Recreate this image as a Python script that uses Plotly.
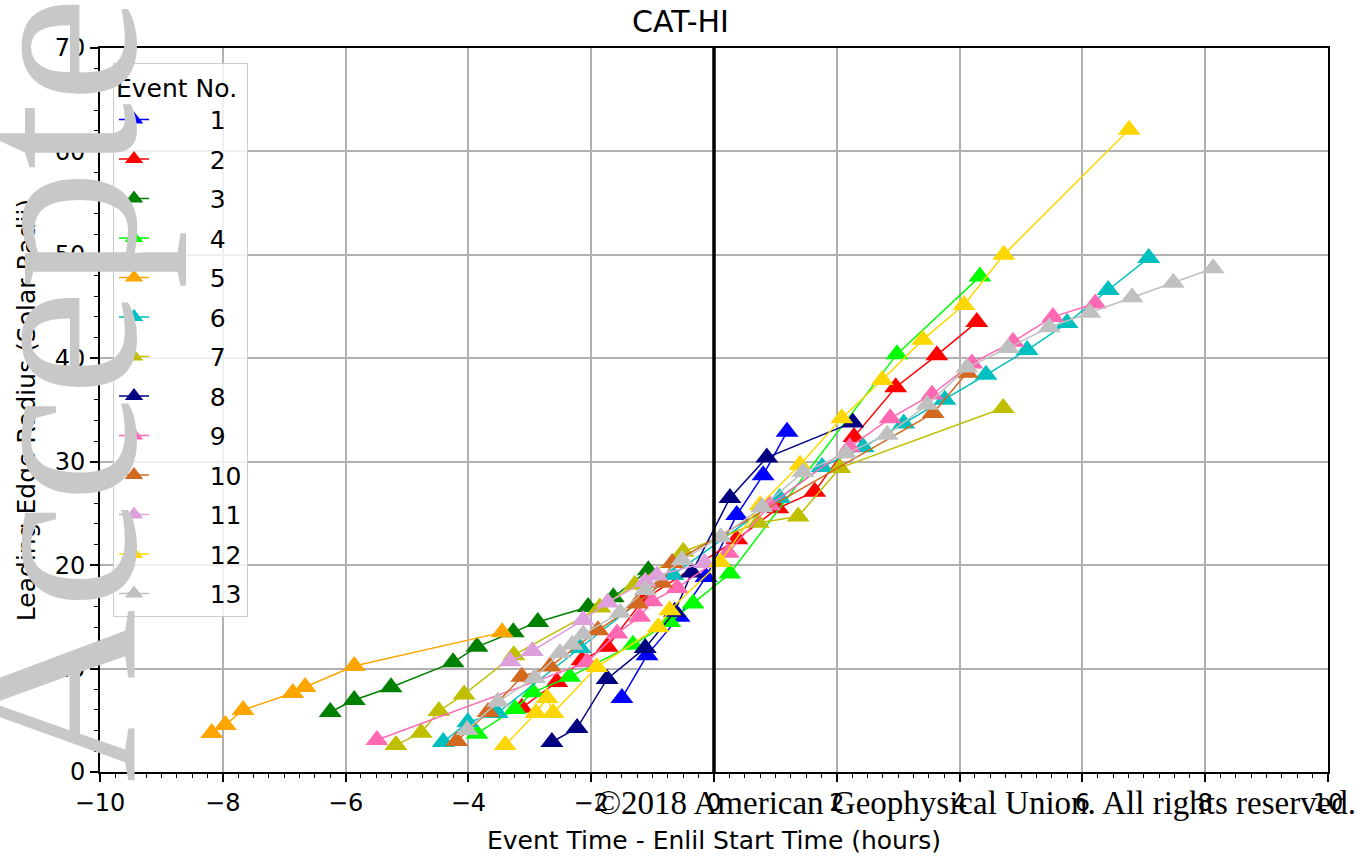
import plotly.graph_objects as go

# ---- data (hours relative to Enlil start, leading edge radius in solar radii) ----
event_labels = ["1", "2", "3", "4", "5", "6", "7", "8", "9", "10", "11", "12", "13"]
colors = ["#0000FF", "#FF0000", "#008000", "#00FF00", "#FFA500", "#00BFBF", "#BFBF00",
          "#000080", "#FF69B4", "#D2691E", "#DDA0DD", "#FFD700", "#C0C0C0"]

t1 = [-1.50, -1.09, -0.57, -0.13, 0.37, 0.80, 1.19]
r1 = [7.15, 11.3, 15.0, 18.85, 24.85, 28.7, 32.9]

t2 = [-3.13, -2.56, -2.15, -1.74, -1.16, 0.37, 1.04, 1.64, 2.28, 2.96, 3.63, 4.28]
r2 = [6.2, 8.7, 10.8, 12.1, 16.6, 22.5, 25.5, 27.1, 32.4, 37.2, 40.3, 43.5]

t3 = [-6.25, -5.86, -5.26, -4.25, -3.86, -3.27, -2.87, -2.05, -1.64, -1.07]
r3 = [5.8, 6.96, 8.2, 10.6, 12.1, 13.5, 14.5, 15.95, 16.9, 19.5]

t4 = [-3.86, -3.24, -2.95, -2.35, -1.32, -0.72, -0.34, 0.26, 2.98, 4.33]
r4 = [3.7, 6.1, 7.7, 9.2, 12.3, 14.5, 16.3, 19.2, 40.4, 47.9]

t5 = [-8.18, -7.96, -7.67, -6.86, -6.66, -5.86, -3.45]
r5 = [3.77, 4.54, 6.0, 7.64, 8.22, 10.25, 13.5]

t6 = [-4.41, -4.01, -3.53, -2.18, -0.67, 1.07, 1.76, 2.43, 3.09, 3.76, 4.43, 5.10, 5.75, 6.42, 7.08]
r6 = [2.9, 4.8, 5.7, 12.0, 19.05, 26.5, 29.5, 31.4, 33.7, 36.0, 38.4, 40.8, 43.4, 46.6, 49.7]

t7 = [-5.18, -4.77, -4.48, -4.07, -3.26, -1.86, -1.29, -0.50, 0.72, 1.37, 2.05, 4.71]
r7 = [2.6, 3.8, 5.9, 7.5, 11.3, 15.9, 18.1, 21.3, 24.1, 24.7, 29.4, 35.2]

t8 = [-2.64, -2.23, -1.74, -1.12, -0.64, -0.36, 0.26, 0.86, 2.26]
r8 = [2.9, 4.25, 9.0, 12.0, 15.5, 19.3, 26.5, 30.4, 33.8]

t9 = [-5.49, -2.07, -1.58, -1.21, -1.01, -0.60, 0.23, 0.91, 2.21, 2.87, 3.55, 4.20, 4.87, 5.52, 6.21]
r9 = [3.1, 10.6, 13.4, 15.0, 16.5, 17.8, 21.2, 25.8, 31.4, 34.2, 36.5, 39.5, 41.6, 44.0, 45.3]

t10 = [-4.19, -3.68, -3.13, -2.67, -1.89, -1.25, -0.85, -0.68, 3.57, 4.12]
r10 = [3.0, 5.8, 9.2, 10.2, 13.7, 16.3, 18.3, 20.2, 34.7, 38.6]

t11 = [-3.32, -2.96, -2.13, -1.73, -1.12, -0.93, -0.15]
r11 = [10.7, 11.7, 14.7, 16.4, 18.4, 19.0, 20.2]

t12 = [-3.40, -2.90, -2.72, -2.62, -1.91, -0.91, -0.72, 0.10, 0.75, 1.40, 2.08, 2.74, 3.40, 4.07, 4.72, 6.76]
r12 = [2.6, 5.7, 7.15, 5.7, 10.15, 14.0, 15.65, 20.3, 25.8, 29.7, 34.2, 37.9, 41.8, 45.15, 50.0, 62.1]

t13 = [-4.02, -3.52, -2.92, -2.51, -2.31, -2.13, -1.53, -1.12, -0.52, 0.11, 0.78, 1.45, 2.15, 2.82,
       3.47, 4.12, 4.79, 5.46, 6.12, 6.81, 7.48, 8.13]
r13 = [4.05, 6.8, 9.1, 11.5, 12.3, 13.3, 15.4, 17.6, 20.5, 22.7, 25.6, 29.0, 30.8, 32.6,
       35.5, 39.1, 41.0, 43.0, 44.4, 45.9, 47.3, 48.7]

times = [t1, t2, t3, t4, t5, t6, t7, t8, t9, t10, t11, t12, t13]
radii = [r1, r2, r3, r4, r5, r6, r7, r8, r9, r10, r11, r12, r13]

x_ticks = [-10, -8, -6, -4, -2, 0, 2, 4, 6, 8, 10]
y_ticks = [0, 10, 20, 30, 40, 50, 60, 70]

NB = "\u00a0"
fig = go.Figure()
for lab, col, tx, ry in zip(event_labels, colors, times, radii):
    fig.add_trace(go.Scatter(
        x=tx, y=ry, mode="lines+markers", name=NB * 7 + lab, legendgroup=lab,
        line=dict(color=col, width=1.5),
        marker=dict(symbol="triangle-up", size=20, color=col, line=dict(width=0)),
    ))

font = "DejaVu Sans"
axis_common = dict(
    showline=True, linecolor="black", linewidth=1.6, mirror=True,
    showgrid=True, gridcolor="#b0b0b0", gridwidth=1.6,
    ticks="outside", ticklen=8, tickwidth=1.6, tickcolor="black",
    tickfont=dict(family=font, size=24, color="black"),
    zeroline=False, automargin=False,
)
fig.update_xaxes(range=[-10, 10], tickvals=x_ticks, **axis_common,
                 minor=dict(dtick=0.25, ticklen=4, tickwidth=1.2, tickcolor="black", ticks="outside", showgrid=False),
                 title=dict(text="Event Time - Enlil Start Time (hours)", font=dict(family=font, size=25, color="black"), standoff=16))
fig.update_yaxes(range=[0, 70], tickvals=y_ticks, **axis_common,
                 minor=dict(dtick=2, ticklen=4, tickwidth=1.2, tickcolor="black", ticks="outside", showgrid=False),
                 title=dict(text="Leading Edge Radius (Solar Radii)", font=dict(family=font, size=25, color="black"), standoff=12))

fig.add_shape(type="line", xref="x", yref="paper", x0=0, x1=0, y0=0, y1=1,
              line=dict(color="black", width=3.5), layer="above")

fig.update_layout(
    width=1361, height=856,
    margin=dict(l=100, r=33, t=48, b=84, autoexpand=False),
    paper_bgcolor="white", plot_bgcolor="white",
    title=dict(text="CAT-HI", x=0.5, xanchor="center", y=0.975, yanchor="middle",
               font=dict(family=font, size=30, color="black")),
    legend=dict(
        title=dict(text="Event No.", font=dict(family=font, size=25, color="black")),
        font=dict(family=font, size=25, color="black"),
        x=0.0106, y=0.979, xanchor="left", yanchor="top",
        bgcolor="rgba(255,255,255,0.8)", bordercolor="#cccccc", borderwidth=1,
        tracegroupgap=4,
    ),
    showlegend=True,
)

# watermark and copyright notice present on the source image
fig.add_annotation(text="Accepted Article", xref="paper", yref="paper",
                   x=(53 - 100) / 1228, y=(772 - 785) / 724, xanchor="center", yanchor="bottom",
                   textangle=-90, showarrow=False,
                   font=dict(family="Liberation Serif", size=240, color="#c8c8c8"))
fig.add_annotation(text="©2018 American Geophysical Union. All rights reserved.", xref="paper", yref="paper",
                   x=(1358 - 100) / 1228, y=(772 - 803) / 724, xanchor="right", yanchor="middle",
                   showarrow=False,
                   font=dict(family="Liberation Serif", size=33, color="black"))

fig.write_html("out.html")
